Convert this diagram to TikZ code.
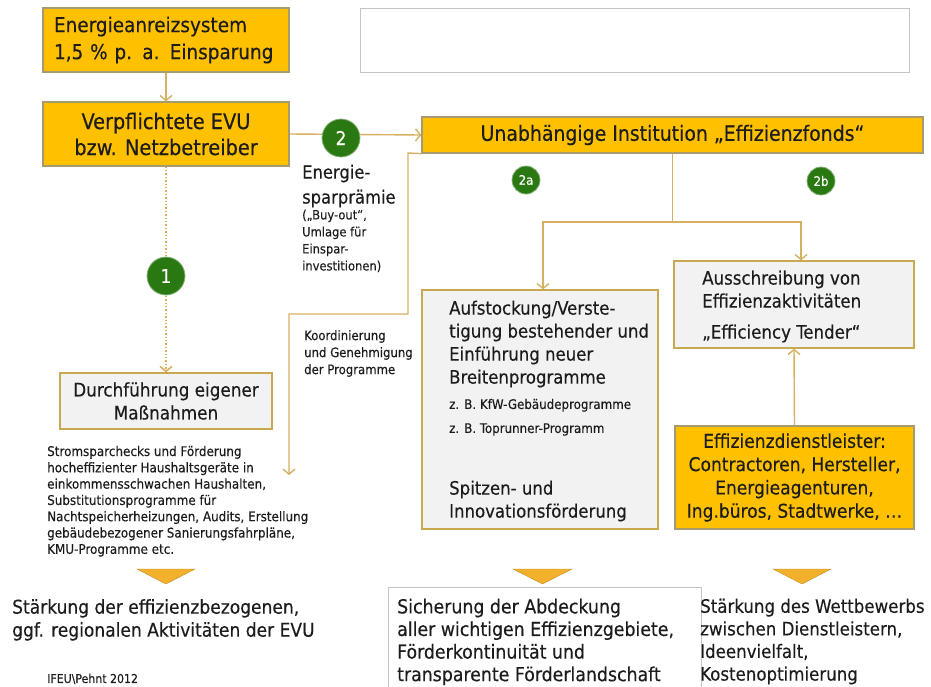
\documentclass[tikz,border=0pt]{standalone}
\usepackage{fontspec}
\setmainfont{DejaVu Sans Condensed}[UprightFeatures={FakeBold=0.3}]
\usetikzlibrary{arrows.meta}
\definecolor{gold}{HTML}{FFC000}
\definecolor{goldedge}{HTML}{C8A850}
\definecolor{boxedge}{HTML}{A89A70}
\definecolor{conncol}{HTML}{D6B062}
\definecolor{lgray}{HTML}{F2F2F2}
\definecolor{grayedge}{HTML}{C4C4C4}
\definecolor{grn}{HTML}{2A7812}
\definecolor{tricol}{HTML}{F2B02C}
\definecolor{txt}{HTML}{1C1C1C}
\newcommand{\fsz}[2]{\fontsize{#1}{#2}\selectfont}
\begin{document}
\begin{tikzpicture}[x=1pt,y=-1pt,
  goldbox/.style={draw=boxedge, fill=gold, line width=1.2pt, inner sep=0pt, text=txt},
  graybox/.style={draw=goldedge, fill=lgray, line width=1.2pt, inner sep=0pt, text=txt},
  plainbox/.style={draw=grayedge, fill=white, line width=1pt, inner sep=0pt},
  conn/.style={draw=conncol, line width=1.4pt, -{Straight Barb[length=5pt,width=12pt]}},
  num/.style={circle, fill=grn, draw=grn!55!white, line width=0.8pt, text=white, inner sep=0pt},
  lbl/.style={inner sep=0pt, text=txt, align=left, anchor=north west},
  tri/.style={fill=tricol, draw=tricol!80!black, line width=0.4pt}
]
\useasboundingbox (0,0) rectangle (931,686);

% top boxes
\node[goldbox, minimum width=246pt, minimum height=64pt, text width=224pt, align=left,
      font=\fsz{20.5}{27}] (A) at (166,40) {Energieanreizsystem\\1,5 \% p. a. Einsparung};
\node[plainbox, minimum width=549pt, minimum height=64pt] (E) at (634.5,40) {};
\node[goldbox, minimum width=246pt, minimum height=64pt, align=center,
      font=\fsz{21.5}{26}] (B) at (166,134) {Verpflichtete EVU\\bzw. Netzbetreiber};
\node[goldbox, minimum width=501pt, minimum height=36pt,
      font=\fsz{21}{24}] (I) at (672.5,135) {Unabhängige Institution „Effizienzfonds“};

% middle boxes
\node[graybox, minimum width=212pt, minimum height=56pt, align=center,
      font=\fsz{18.7}{23}] (D) at (166,401) {Durchführung eigener\\Maßnahmen};
\node[graybox, minimum width=236pt, minimum height=239pt] (S) at (540,409.5) {};
\node[graybox, minimum width=240pt, minimum height=87pt] (T) at (794,304.5) {};
\node[goldbox, minimum width=239pt, minimum height=103pt, align=center,
      font=\fsz{19}{23.3}] (F) at (794.5,477.5) {Effizienzdienstleister:\\Contractoren, Hersteller,\\Energieagenturen,\\Ing.büros, Stadtwerke, …};

% texts in boxes
\node[lbl, font=\fsz{18.4}{23}] (S1) at (449,300.4) {Aufstockung/Verste-\\tigung bestehender und\\Einführung neuer\\Breitenprogramme};
\node[lbl, font=\fsz{13.2}{24}] (S2) at (449,398.7) {z. B. KfW-Gebäudeprogramme\\z. B. Toprunner-Programm};
\node[lbl, font=\fsz{18.4}{23}] (S3) at (449,480.4) {Spitzen- und\\Innovationsförderung};
\node[lbl, font=\fsz{18.5}{23}] (T1) at (702,270.3) {Ausschreibung von\\Effizienzaktivitäten};
\node[lbl, font=\fsz{18.5}{23}] (T2) at (702,324.3) {„Efficiency Tender“};

% free labels
\node[lbl, font=\fsz{18.2}{25}] (ep1) at (302,164.5) {Energie-\\sparprämie};
\node[lbl, font=\fsz{12.8}{17}] (ep2) at (302,209.5) {(„Buy-out“,\\Umlage für\\Einspar-\\investitionen)};
\node[lbl, font=\fsz{13}{17}] (ko) at (304,330) {Koordinierung\\und Genehmigung\\der Programme};
\node[lbl, font=\fsz{13.3}{16.3}] (st) at (47,445.7) {Stromsparchecks und Förderung\\hocheffizienter Haushaltsgeräte in\\einkommensschwachen Haushalten,\\Substitutionsprogramme für\\Nachtspeicherheizungen, Audits, Erstellung\\gebäudebezogener Sanierungsfahrpläne,\\KMU-Programme etc.};

% connectors
\draw[conn] (A.south) -- (B.north);
\draw[conn] (B.east) -- (I.west);
\draw[conn, dotted, line width=1.6pt] (B.south) -- (D.north);
\coordinate (br) at (672.5,222);
\draw[conncol, line width=1.4pt] (I.south) -- (br);
\draw[conn] (br) -| ([xshift=3pt]S.north);
\draw[conn] (br) -| ([xshift=7pt]T.north);
\coordinate (kend) at (289,475);
\draw[conn] (I.south west) -- (408,153) -- (408,314) -- (289,314) -- (kend);
\draw[conn] (F.north) -- (T.south);

% numbered circles
\node[num, minimum size=38pt, font=\fsz{19}{20}] (n2) at (341,138) {2};
\node[num, minimum size=38pt, font=\fsz{19}{20}] (n1) at (166,276) {1};
\node[num, minimum size=28pt, font=\fsz{13}{14}] (n2a) at (526,180) {2a};
\node[num, minimum size=28pt, font=\fsz{13}{14}] (n2b) at (821,181) {2b};

% triangles
\draw[tri] (137,569) -- (195,569) -- (166,584) -- cycle;
\draw[tri] (513,569) -- (572,569) -- (542.5,584) -- cycle;
\draw[tri] (773,569) -- (831,569) -- (802,584) -- cycle;

% bottom
\draw[grayedge, line width=1pt, fill=white] (388,700) -- (388,587) -- (701,587) -- (701,700);
\node[lbl, font=\fsz{19}{23}] (r1) at (12,599) {Stärkung der effizienzbezogenen,\\ggf. regionalen Aktivitäten der EVU};
\node[lbl, font=\fsz{19.3}{22.6}] (r2) at (397,598.5) {Sicherung der Abdeckung\\aller wichtigen Effizienzgebiete,\\Förderkontinuität und\\transparente Förderlandschaft};
\node[lbl, font=\fsz{18.5}{22.6}] (r3) at (700,598.5) {Stärkung des Wettbewerbs\\zwischen Dienstleistern,\\Ideenvielfalt,\\Kostenoptimierung};
\node[lbl, font=\fsz{12.2}{13}] (src) at (47,673.5) {IFEU\textbackslash Pehnt 2012};
\end{tikzpicture}
\end{document}
